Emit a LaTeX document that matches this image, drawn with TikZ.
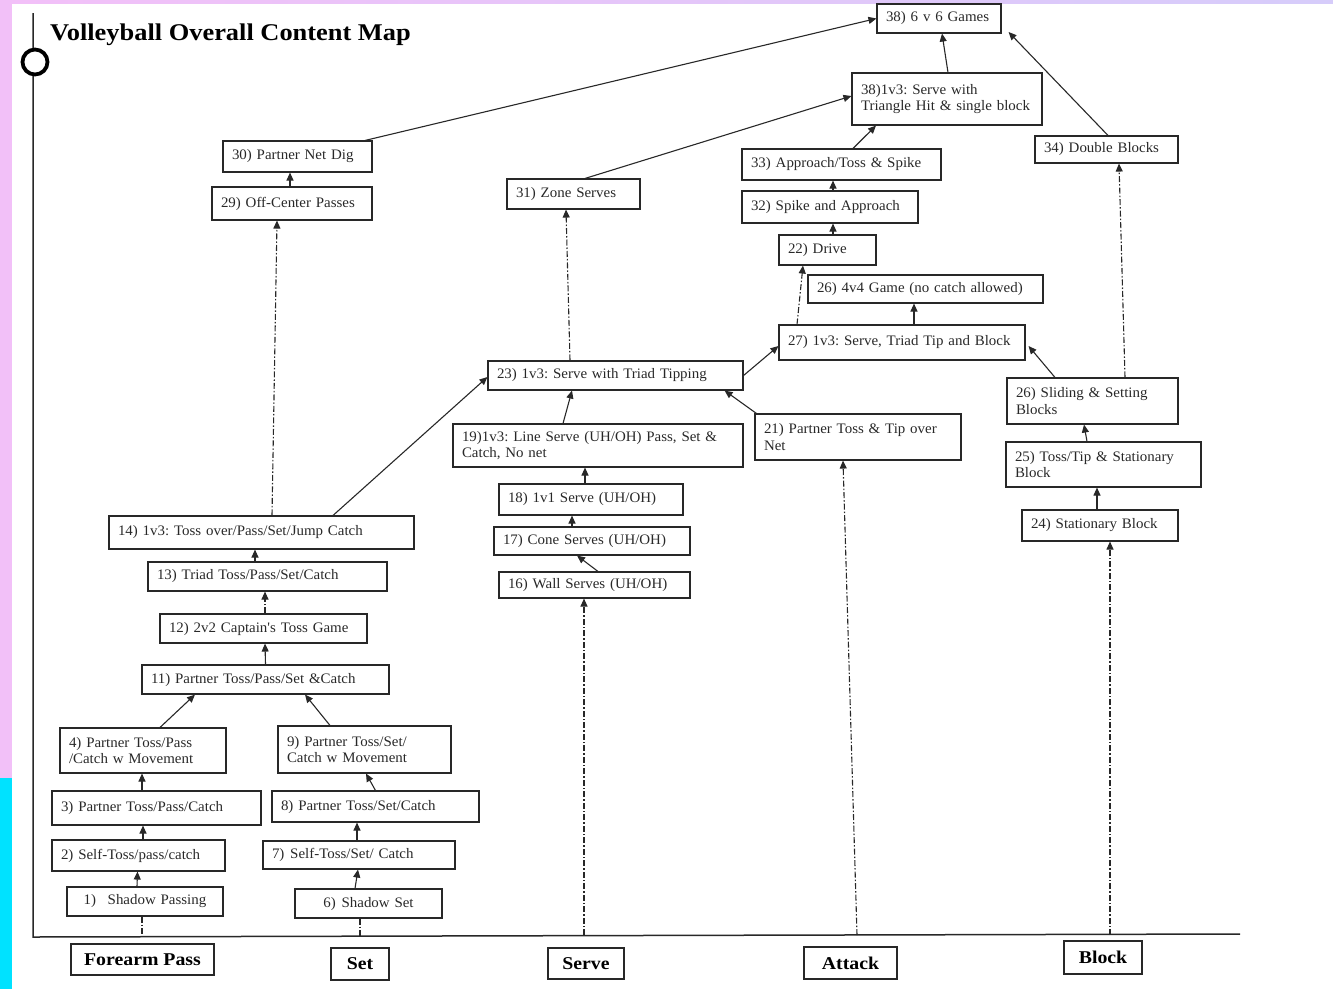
\documentclass[tikz,border=0pt]{standalone}
\usepackage{fontspec}
\setmainfont{Liberation Serif}
\newfontfamily\mapfont[FakeStretch=1.03]{Liberation Serif}
\newfontfamily\headfont[FakeStretch=1.1]{Liberation Serif}
\usetikzlibrary{arrows.meta}
\definecolor{inkgray}{RGB}{40,40,40}
\definecolor{stripepink}{RGB}{242,192,248}
\definecolor{stripelilac}{RGB}{214,204,250}
\definecolor{stripecyan}{RGB}{0,226,255}
\tikzstyle{skill}=[draw=inkgray, line width=1.1pt, text=inkgray, font=\mapfont\fontsize{14.5}{16.8}\selectfont, inner xsep=9pt, inner ysep=2pt, align=left]
\tikzstyle{strand}=[draw=inkgray, line width=1.1pt, text=black, font=\headfont\bfseries\fontsize{18}{21}\selectfont, inner sep=4pt]
\tikzstyle{link}=[-{Triangle[length=8pt,width=7pt]}, line width=1.1pt, inkgray]
\tikzstyle{later}=[link, dash pattern=on 6pt off 2pt on 1.5pt off 2pt]

\begin{document}
\frenchspacing
\begin{tikzpicture}[x=1pt, y=-1pt]
\useasboundingbox (0,0) rectangle (1333,989);
\fill[stripepink] (0,0) rectangle (12,778);
\fill[stripecyan] (0,778) rectangle (12,989);
\shade[left color=stripepink, right color=stripelilac] (12,0) rectangle (1333,3);

\coordinate (axtop) at (33,13);
\coordinate (origin) at (33,937);
\coordinate (axend) at (1240,934);
\draw[line width=1.5pt, inkgray] (axtop) -- (origin) -- (axend);
\node[circle, draw=black, line width=3.8pt, fill=white, minimum size=25pt, inner sep=0pt] (knob) at (35,62) {};
\node[anchor=base west, font=\headfont\bfseries\fontsize{24}{28}\selectfont, inner sep=0pt] (title) at (50,40) {Volleyball Overall Content Map};

\node[skill, text width=138pt, align=center, minimum height=29pt] (n1) at (145,901.5) {1)\hspace{0.8em}Shadow Passing};
\node[skill, text width=155pt, minimum height=31pt] (n2) at (138.5,855.5) {2) Self-Toss/pass/catch};
\node[skill, text width=191pt, minimum height=34pt] (n3) at (156.5,808) {3) Partner Toss/Pass/Catch};
\node[skill, text width=148pt, minimum height=45pt] (n4) at (143,750.5) {4) Partner Toss/Pass\\/Catch w Movement};

\node[skill, text width=129pt, align=center, minimum height=29pt] (n6) at (368.5,903.5) {6)\hspace{0.4em}Shadow Set};
\node[skill, text width=174pt, minimum height=28pt] (n7) at (359,855) {7)\hspace{0.4em}Self-Toss/Set/ Catch};
\node[skill, text width=189pt, minimum height=31pt] (n8) at (375.5,806.5) {8) Partner Toss/Set/Catch};
\node[skill, text width=155pt, minimum height=47pt] (n9) at (364.5,749.5) {9) Partner Toss/Set/\\Catch w Movement};
\node[skill, text width=229pt, minimum height=29pt] (n11) at (265.5,679.5) {11) Partner Toss/Pass/Set \&Catch};
\node[skill, text width=189pt, minimum height=29pt] (n12) at (263.5,628.5) {12) 2v2 Captain's Toss Game};
\node[skill, text width=221pt, minimum height=29pt] (n13) at (267.5,576.5) {13) Triad Toss/Pass/Set/Catch};
\node[skill, text width=287pt, minimum height=33pt] (n14) at (261.5,532.5) {14) 1v3: Toss over/Pass/Set/Jump Catch};
\node[skill, text width=142pt, minimum height=33pt] (n29) at (292,203.5) {29) Off-Center Passes};
\node[skill, text width=131pt, minimum height=31pt] (n30) at (297.5,156.5) {30) Partner Net Dig};

\node[skill, text width=173pt, minimum height=26pt] (n16) at (594.5,585) {16) Wall Serves (UH/OH)};
\node[skill, text width=178pt, minimum height=28pt] (n17) at (592,541) {17) Cone Serves (UH/OH)};
\node[skill, text width=166pt, minimum height=31pt] (n18) at (591,499.5) {18) 1v1 Serve (UH/OH)};
\node[skill, text width=272pt, minimum height=43pt] (n19) at (598,445.5) {19)1v3: Line Serve (UH/OH) Pass, Set \&\\Catch, No net};
\node[skill, text width=237pt, minimum height=29pt] (n23) at (615.5,375.5) {23) 1v3: Serve with Triad Tipping};
\node[skill, text width=115pt, minimum height=30pt] (n31) at (573.5,194) {31) Zone Serves};

\node[skill, text width=188pt, minimum height=46pt] (n21) at (858,437) {21) Partner Toss \& Tip over\\Net};
\node[skill, text width=228pt, minimum height=35pt] (n27) at (902,342.5) {27) 1v3: Serve, Triad Tip and Block};
\node[skill, text width=217pt, minimum height=28pt] (n26) at (925.5,289) {26) 4v4 Game (no catch allowed)};
\node[skill, text width=79pt, minimum height=30pt] (n22) at (827.5,250) {22) Drive};
\node[skill, text width=158pt, minimum height=32pt] (n32) at (830,207) {32) Spike and Approach};
\node[skill, text width=181pt, minimum height=31pt] (n33) at (841.5,164.5) {33) Approach/Toss \& Spike};
\node[skill, text width=172pt, minimum height=52pt] (n38a) at (947,99) {38)1v3: Serve with\\Triangle Hit \& single block};
\node[skill, text width=106pt, minimum height=29pt] (n38b) at (939,18.5) {38) 6 v 6 Games};

\node[skill, text width=138pt, minimum height=31pt] (n24) at (1100,525.5) {24) Stationary Block};
\node[skill, text width=177pt, minimum height=45pt] (n25) at (1103.5,464.5) {25) Toss/Tip \& Stationary\\Block};
\node[skill, text width=153pt, minimum height=46pt] (n26b) at (1092.5,401) {26) Sliding \& Setting\\Blocks};
\node[skill, text width=125pt, minimum height=27pt] (n34) at (1106.5,149.5) {34) Double Blocks};

\node[strand, minimum width=143pt, minimum height=31pt] (forearm) at (142.5,959.5) {Forearm Pass};
\node[strand, minimum width=58pt, minimum height=32pt] (set) at (360,964) {Set};
\node[strand, minimum width=76pt, minimum height=31pt] (serve) at (586,963.5) {Serve};
\node[strand, minimum width=93pt, minimum height=32pt] (attack) at (850.5,963) {Attack};
\node[strand, minimum width=78pt, minimum height=33pt] (block) at (1103,957.5) {Block};

\foreach \a/\sa/\b/\sb in {n1/-8/n2/-1, n2/4.5/n3/-13.5, n3/-14.5/n4/-1, n4/17/n11/-70.5,
    n6/-13.5/n7/-1, n7/-2/n8/-18.5, n8/0/n9/1.5, n9/-34.5/n11/39.5,
    n11/0/n12/1.5, n13/-12.5/n14/-6.5, n29/-2/n30/-7.5,
    n16/3.5/n17/-15, n17/-20/n18/-19, n18/-6/n19/-13, n19/-35/n23/-43.5,
    n27/12/n26/-11.5, n22/5.5/n32/3, n32/3/n33/-8.5, n33/11.5/n38a/-71, n38a/1/n38b/3,
    n24/-3/n25/-6.5, n25/-16.5/n26b/-8.5}
    \draw[link] ([xshift=\sa]\a.north) -- ([xshift=\sb]\b.south);

\foreach \a/\sa/\b/\sb in {n12/1.5/n13/-2.5, n14/10.5/n29/-15, n23/-45.5/n31/-7.5,
    n27/-105/n22/-24.5, n26b/32.5/n34/12.5}
    \draw[later] ([xshift=\sa]\a.north) -- ([xshift=\sb]\b.south);

\draw[link] ([xshift=71.5]n14.north) -- ([yshift=-1.5]n23.west);
\draw[link] ([xshift=67.5]n30.north) -- (n38b.west);
\draw[link] ([xshift=11.5]n31.north) -- ([yshift=3]n38a.west);
\draw[link] (n23.east) -- ([yshift=-3.5]n27.west);
\draw[link] ([xshift=2]n21.north west) -- ([xshift=-19]n23.south east);
\draw[link] ([xshift=1.5]n34.north) -- ([xshift=7,yshift=-13.5]n38b.east);
\draw[link] ([xshift=-37.5]n26b.north) -- ([xshift=3,yshift=-3.5]n27.east);

\coordinate (fpbase) at (142,937);
\coordinate (setbase) at (360,938);
\coordinate (servebase) at (584,935);
\coordinate (attackbase) at (857,935);
\coordinate (blockbase) at (1110,935);
\draw[later, -] (n1.south -| fpbase) -- (fpbase);
\draw[later, -] (n6.south -| setbase) -- (setbase);
\draw[later] (servebase) -- (n16.south -| servebase);
\draw[later] (attackbase) -- ([xshift=-15]n21.south);
\draw[later] (blockbase) -- ([xshift=10]n24.south);

\end{tikzpicture}
\end{document}
